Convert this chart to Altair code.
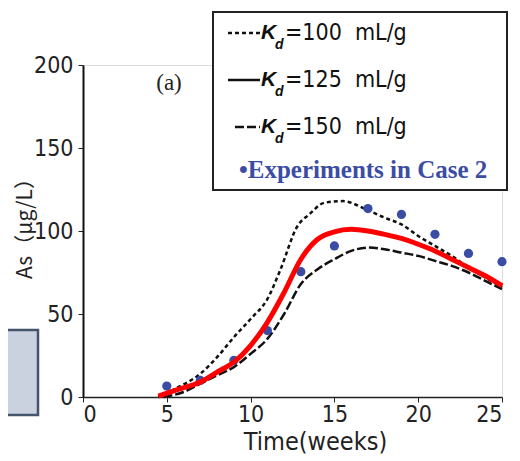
import altair as alt
import pandas as pd

# ---------------- data ----------------
t100 = [4.5, 5.5, 7, 8, 9, 10, 11, 11.75, 12.8, 13.5, 14.4, 15.5, 16.9, 18, 19, 20, 21, 22, 23, 24, 25]
v100 = [0, 5, 14, 24, 36, 47, 59, 76, 103, 110, 117, 118, 113, 108, 104, 97, 91, 85, 78, 72, 66]

t125 = [4.5, 5.5, 7, 8, 9, 10, 11, 12, 13, 14, 15, 16, 17, 18, 19, 20, 21, 22, 23, 24, 25]
v125 = [0.5, 4, 9, 15, 21, 31, 45, 63, 83, 95, 99.5, 101, 100, 98, 95.5, 92, 88, 83, 78, 73, 67]

t150 = [4.8, 6, 7, 8, 9, 10, 11, 12, 13, 14, 15, 16, 17, 18, 19, 20, 21, 22, 23, 24, 25]
v150 = [0, 3, 8, 13, 18, 26, 35, 50, 68, 77, 83, 88, 90, 89, 87, 85, 82, 79, 75, 70, 65]

exp_t = [5, 7, 9, 11, 13, 15, 17, 19, 21, 23, 25]
exp_v = [6.6, 10, 22, 40, 75.5, 91, 113.5, 110, 98, 86.5, 81.5]

x_ticks = [0, 5, 10, 15, 20, 25]
y_ticks = [0, 50, 100, 150, 200]

legend_values = ["100", "125", "150"]

NARROW = "DejaVu Sans Condensed, Liberation Sans Narrow, sans-serif"
NB = "\u00a0"

df100 = pd.DataFrame({"t": t100, "v": v100})
df125 = pd.DataFrame({"t": t125, "v": v125})
df150 = pd.DataFrame({"t": t150, "v": v150})
dfexp = pd.DataFrame({"t": exp_t, "v": exp_v})

xs = alt.Scale(domain=[0, 25], nice=False, zero=False)
ys = alt.Scale(domain=[0, 200], nice=False)

xenc = alt.X("t:Q", scale=xs, axis=alt.Axis(
    values=x_ticks, title="Time(weeks)", grid=False, domainColor="#222", domainWidth=1.5,
    tickColor="#222", tickSize=5, labelFont=NARROW, labelFontSize=23, labelColor="#222",
    labelPadding=1, titleFont=NARROW, titleFontSize=25, titleFontWeight="normal",
    titleColor="#222", titleX=232, titleY=44, titleBaseline="middle"))
yenc = alt.Y("v:Q", scale=ys, axis=alt.Axis(
    values=y_ticks, title="As（μg/L）", grid=False, domainColor="#111", domainWidth=2,
    tickColor="#222", tickSize=5, labelFont=NARROW, labelFontSize=23, labelColor="#222",
    labelPadding=5, titleFont="Noto Sans CJK JP", titleFontSize=21, titleFontWeight="normal",
    titleColor="#222", titleX=-58, titleY=158, titleAngle=-90, titleBaseline="middle"))

line100 = alt.Chart(df100).mark_line(color="#111", strokeWidth=2.5, strokeDash=[4, 3],
                                     interpolate="monotone").encode(x=xenc, y=yenc)
line150 = alt.Chart(df150).mark_line(color="#111", strokeWidth=2.5, strokeDash=[9, 3],
                                     interpolate="monotone").encode(x="t:Q", y="v:Q")
line125b = alt.Chart(df125).mark_line(color="#111", strokeWidth=2,
                                      interpolate="monotone").encode(x="t:Q", y="v:Q")
pts = alt.Chart(dfexp).mark_point(filled=True, shape="circle", size=85, color="#3b4ca5",
                                  opacity=1).encode(x="t:Q", y="v:Q")
line125r = alt.Chart(df125).mark_line(color="#ff0000", strokeWidth=5,
                                      interpolate="monotone").encode(x="t:Q", y="v:Q")

one = pd.DataFrame({"a": [0]})

# grey box at left (partly off-canvas)
grey = alt.Chart(one).mark_rect(fill="#cbd2df", stroke="#44546a", strokeWidth=2.5, clip=False).encode(
    x=alt.value(-90), x2=alt.value(-45), y=alt.value(265), y2=alt.value(350))

# "(a)" label
lab_a = alt.Chart(one).mark_text(text="(a)", font="Liberation Serif", fontSize=23, color="#222",
                                 align="center", baseline="middle").encode(
    x=alt.value(86), y=alt.value(18))

# legend box
lbox = alt.Chart(one).mark_rect(fill="white", stroke="#222", strokeWidth=2).encode(
    x=alt.value(130), x2=alt.value(424), y=alt.value(-53), y2=alt.value(125))

layers = [line100, line150, line125b, pts, line125r, grey, lab_a, lbox]

row_y = [-32, 15, 62]
dashes = [[4, 3], None, [9, 3]]
xstarts = [145, 145, 152]
for val, ry, dsh, xs0 in zip(legend_values, row_y, dashes, xstarts):
    kw = dict(color="#111", strokeWidth=2.5)
    if dsh:
        kw["strokeDash"] = dsh
    layers.append(alt.Chart(one).mark_rule(**kw).encode(
        x=alt.value(xs0), x2=alt.value(177), y=alt.value(ry)))
    layers.append(alt.Chart(one).mark_text(text="K", font="Liberation Sans", fontStyle="italic",
                                           fontWeight="bold", fontSize=21, color="#111",
                                           align="left", baseline="middle").encode(
        x=alt.value(178), y=alt.value(ry)))
    layers.append(alt.Chart(one).mark_text(text="d", font="Liberation Sans", fontStyle="italic",
                                           fontWeight="bold", fontSize=14, color="#111",
                                           align="left", baseline="middle").encode(
        x=alt.value(192), y=alt.value(ry + 12)))
    layers.append(alt.Chart(one).mark_text(text=f"={val}{NB}{NB}mL/g", font=NARROW, fontSize=23,
                                           color="#111", align="left", baseline="middle").encode(
        x=alt.value(202), y=alt.value(ry)))

layers.append(alt.Chart(one).mark_text(text="•Experiments in Case 2", font="Liberation Serif",
                                       fontWeight="bold", fontSize=25, color="#3b4ca5",
                                       align="left", baseline="middle").encode(
    x=alt.value(156), y=alt.value(105)))

chart = alt.layer(*layers).properties(
    width=419, height=332,
    autosize=alt.AutoSizeParams(type="none"),
    padding={"left": 75, "top": 57, "right": 10, "bottom": 60},
).configure_view(stroke=None).configure(background="white")

chart.save("out.html", embed_options={"renderer": "svg", "actions": False})
